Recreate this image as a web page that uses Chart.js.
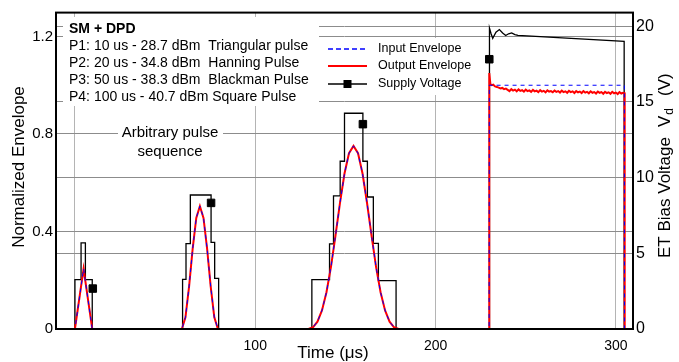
<!DOCTYPE html>
<html>
<head>
<meta charset="utf-8">
<script src="https://cdn.jsdelivr.net/npm/chart.js@4.4.1/dist/chart.umd.min.js"></script>
<style>
  html, body { margin: 0; padding: 0; background: #fff; }
  #wrap { width: 679px; height: 362px; }
</style>
</head>
<body>
<div id="wrap"><canvas id="pulseChart" width="679" height="362"></canvas></div>
<script>
// axis ticks
const xTicks = [0, 100, 200, 300];
const leftTicks = [0, 0.4, 0.8, 1.2];
const rightTicks = [0, 5, 10, 15, 20];

// input envelope (normalized) - triangle, hanning, blackman, square
const inputTime = [-10.5, 0, 4.8, 9.6,
  59.3, 61.3, 63.3, 65.3, 67.3, 69.3, 71.3, 73.3, 75.3, 77.3, 79.3,
  129.5, 132, 134.5, 137, 139.5, 142, 144.5, 147, 149.5, 152, 154.5, 157, 159.5, 162, 164.5, 167, 169.5, 172, 174.5, 177, 179.5,
  229.7, 229.8, 304.7, 304.8, 309.5];
const inputEnv = [0, 0, 0.247, 0,
  0, 0.048, 0.174, 0.330, 0.456, 0.504, 0.456, 0.330, 0.174, 0.048, 0,
  0, 0.007, 0.030, 0.076, 0.151, 0.255, 0.383, 0.517, 0.638, 0.721, 0.751, 0.721, 0.638, 0.517, 0.383, 0.255, 0.151, 0.076, 0.030, 0.007, 0,
  0, 1.0, 1.0, 0, 0];

// output envelope (normalized)
const outputTime = [-10.5, 0, 4.8, 9.6,
  59.3, 61.3, 63.3, 65.3, 67.3, 69.3, 71.3, 73.3, 75.3, 77.3, 79.3,
  129.5, 132, 134.5, 137, 139.5, 142, 144.5, 147, 149.5, 152, 154.5, 157, 159.5, 162, 164.5, 167, 169.5, 172, 174.5, 177, 179.5,
  229.7, 229.8, 230.4, 231.2, 232, 233, 234, 235, 236, 237, 238, 239,
  240, 241, 242, 243, 244, 245, 246, 247, 248, 249, 250, 251, 252, 253, 254, 255,
  256, 257, 258, 259, 260, 261, 262, 263, 264, 265, 266, 267, 268, 269, 270, 271,
  272, 273, 274, 275, 276, 277, 278, 279, 280, 281, 282, 283, 284, 285, 286, 287,
  288, 289, 290, 291, 292, 293, 294, 295, 296, 297, 298, 299, 300, 301, 302, 303, 304,
  304.8, 304.9, 309.5];
const outputEnv = [0, 0, 0.247, 0,
  0, 0.048, 0.174, 0.330, 0.456, 0.504, 0.456, 0.330, 0.174, 0.048, 0,
  0, 0.007, 0.030, 0.076, 0.151, 0.255, 0.383, 0.517, 0.638, 0.721, 0.751, 0.721, 0.638, 0.517, 0.383, 0.255, 0.151, 0.076, 0.030, 0.007, 0,
  0, 1.05, 1.005, 1.0, 1.002, 0.995, 0.993, 0.99, 0.987, 0.989, 0.984, 0.986,
  0.981, 0.976, 0.984, 0.978, 0.982, 0.975, 0.983, 0.977, 0.980, 0.974, 0.982, 0.976, 0.979, 0.973, 0.981, 0.975,
  0.978, 0.972, 0.980, 0.974, 0.977, 0.971, 0.979, 0.974, 0.976, 0.971, 0.978, 0.973, 0.976, 0.970, 0.978, 0.972,
  0.975, 0.969, 0.977, 0.972, 0.975, 0.968, 0.976, 0.971, 0.974, 0.968, 0.976, 0.970, 0.973, 0.967, 0.975, 0.969,
  0.972, 0.966, 0.974, 0.969, 0.972, 0.965, 0.973, 0.968, 0.971, 0.965, 0.973, 0.967, 0.970, 0.964, 0.972, 0.966, 0.969,
  0.968, 0, 0];

// ET supply voltage (V)
const supplyTime = [-10.5, 0, 0, 3.4, 3.4, 5.8, 5.8, 9.6, 9.6,
  59.7, 59.7, 61.6, 61.6, 64.0, 64.0, 75.5, 75.5, 77.5, 77.5, 79.7, 79.7,
  131.4, 131.4, 141.2, 141.2, 143.4, 143.4, 147.1, 147.1, 149.5, 149.5, 159.7, 159.7, 162.2, 162.2, 165.5, 165.5, 168.3, 168.3, 178.1, 178.1,
  229.8, 229.9, 230.8, 231.7, 233.5, 235.4, 237.2, 238.9, 240.5, 242.2, 244, 245.7, 304.6, 304.6, 309.5];
const supplyVolt = [0, 0, 3.26, 3.26, 5.69, 5.69, 3.26, 3.26, 0,
  0, 3.28, 3.28, 5.64, 5.64, 8.85, 8.85, 5.72, 5.72, 3.34, 3.34, 0,
  0, 3.26, 3.26, 5.62, 5.62, 8.79, 8.79, 11.08, 11.08, 14.25, 14.25, 11.08, 11.08, 8.72, 8.72, 5.66, 5.66, 3.2, 3.2, 0,
  0, 19.87, 19.5, 19.2, 19.6, 19.78, 19.55, 19.39, 19.5, 19.56, 19.45, 19.39, 19.0, 0, 0];

// square markers on the supply trace
const markerTime = [9.9, 75.5, 159.7, 229.8];
const markerVolt = [2.67, 8.33, 13.53, 17.82];

const FONT = '"Liberation Sans", Arial, sans-serif';

function toPoints(xs, ys) {
    return xs.map((x, i) => ({ x: x, y: ys[i] }));
}

// white boxes, legend, text block and axis titles
const annotations = {
    id: 'annotations',
    beforeDatasetsDraw(chart) {
        const ctx = chart.ctx;
        ctx.save();
        ctx.fillStyle = '#fff';
        ctx.fillRect(63, 17, 256, 89);
        ctx.fillRect(320, 38, 150, 57);
        ctx.fillRect(118, 124, 105, 37);
        ctx.restore();
    },
    afterDraw(chart) {
        const ctx = chart.ctx;
        const area = chart.chartArea;
        ctx.save();

        // frame
        ctx.strokeStyle = '#000';
        ctx.lineWidth = 2;
        ctx.strokeRect(area.left, area.top, area.right - area.left, area.bottom - area.top);

        ctx.fillStyle = '#000';
        ctx.textBaseline = 'middle';

        // text block
        ctx.textAlign = 'left';
        ctx.font = 'bold 14px ' + FONT;
        ctx.fillText('SM + DPD', 69, 29);
        ctx.font = '14px ' + FONT;
        ctx.fillText('P1: 10 us - 28.7 dBm  Triangular pulse', 69, 46);
        ctx.fillText('P2: 20 us - 34.8 dBm  Hanning Pulse', 69, 63);
        ctx.fillText('P3: 50 us - 38.3 dBm  Blackman Pulse', 69, 80);
        ctx.fillText('P4: 100 us - 40.7 dBm Square Pulse', 69, 97);

        // legend
        const legendRows = [
            { text: 'Input Envelope', color: '#0000ff', dash: [5, 3], width: 1.5, y: 49 },
            { text: 'Output Envelope', color: '#ff0000', dash: [], width: 2, y: 66 },
            { text: 'Supply Voltage', color: '#000', dash: [], width: 1.5, y: 84, marker: true }
        ];
        ctx.font = '12.5px ' + FONT;
        legendRows.forEach(row => {
            ctx.beginPath();
            ctx.setLineDash(row.dash);
            ctx.strokeStyle = row.color;
            ctx.lineWidth = row.width;
            ctx.moveTo(328, row.y);
            ctx.lineTo(367, row.y);
            ctx.stroke();
            ctx.setLineDash([]);
            if (row.marker) {
                ctx.fillStyle = '#000';
                ctx.fillRect(343.5, row.y - 4, 8, 8);
            }
            ctx.fillStyle = '#000';
            ctx.fillText(row.text, 378, row.y);
        });

        // inline note
        ctx.textAlign = 'center';
        ctx.font = '15px ' + FONT;
        ctx.fillText('Arbitrary pulse', 170, 133);
        ctx.fillText('sequence', 170, 152);

        // axis titles
        ctx.font = '17px ' + FONT;
        ctx.fillText('Time (\u03bcs)', 333, 353);

        ctx.save();
        ctx.translate(19, 167);
        ctx.rotate(-Math.PI / 2);
        ctx.fillText('Normalized Envelope', 0, 0);
        ctx.restore();

        // right title with subscript, spread like the original
        ctx.save();
        ctx.translate(665, 258);
        ctx.rotate(-Math.PI / 2);
        ctx.textAlign = 'left';
        ctx.font = '17px ' + FONT;
        const main = 'ET Bias Voltage';
        ctx.fillText(main, 0, 0);
        let w = ctx.measureText(main).width + 10;
        ctx.fillText('V', w, 0);
        w += ctx.measureText('V').width + 1;
        ctx.font = '12px ' + FONT;
        ctx.fillText('d', w, 5);
        w += ctx.measureText('d').width + 12;
        ctx.font = '17px ' + FONT;
        ctx.fillText('(V)', w, 0);
        ctx.restore();

        ctx.restore();
    }
};

const ctx = document.getElementById('pulseChart').getContext('2d');
const pulseChart = new Chart(ctx, {
    type: 'line',
    data: {
        datasets: [{
            label: 'Supply markers',
            data: toPoints(markerTime, markerVolt),
            yAxisID: 'y2',
            showLine: false,
            pointStyle: 'rect',
            pointRadius: 5.3,
            backgroundColor: '#000',
            borderColor: '#000',
            order: 0
        }, {
            label: 'Input Envelope',
            data: toPoints(inputTime, inputEnv),
            yAxisID: 'y',
            borderColor: '#0000ff',
            borderDash: [4, 4],
            borderWidth: 1,
            pointRadius: 0,
            order: 1
        }, {
            label: 'Output Envelope',
            data: toPoints(outputTime, outputEnv),
            yAxisID: 'y',
            borderColor: '#ff0000',
            borderWidth: 2,
            pointRadius: 0,
            order: 2
        }, {
            label: 'Supply Voltage',
            data: toPoints(supplyTime, supplyVolt),
            yAxisID: 'y2',
            borderColor: '#000',
            borderWidth: 1.3,
            pointRadius: 0,
            order: 3
        }]
    },
    options: {
        responsive: false,
        animation: false,
        devicePixelRatio: 1,
        layout: { padding: { top: 10, left: 0, right: 0, bottom: 0 } },
        plugins: {
            legend: { display: false },
            tooltip: { enabled: false }
        },
        scales: {
            x: {
                type: 'linear',
                min: -10.5,
                max: 309.5,
                afterBuildTicks: s => { s.ticks = xTicks.map(v => ({ value: v })); },
                afterFit: s => { s.height = 33; },
                ticks: {
                    callback: v => (v === 0 ? '' : v),
                    color: '#000',
                    font: { family: FONT, size: 14 },
                    padding: 9,
                    maxRotation: 0
                },
                grid: { color: '#b4b4b4', drawTicks: false },
                border: { display: false }
            },
            y: {
                position: 'left',
                min: 0,
                max: 1.298,
                afterBuildTicks: s => { s.ticks = leftTicks.map(v => ({ value: v })); },
                afterFit: s => { s.width = 56; },
                ticks: {
                    callback: v => v,
                    color: '#000',
                    font: { family: FONT, size: 15 },
                    padding: 3
                },
                grid: { color: '#8c8c8c', drawTicks: false },
                border: { display: false }
            },
            y2: {
                position: 'right',
                min: 0,
                max: 20.9,
                afterBuildTicks: s => { s.ticks = rightTicks.map(v => ({ value: v })); },
                afterFit: s => { s.width = 46; },
                ticks: {
                    callback: v => v,
                    color: '#000',
                    font: { family: FONT, size: 16 },
                    padding: 3
                },
                grid: { color: '#8c8c8c', drawTicks: false },
                border: { display: false }
            }
        }
    },
    plugins: [annotations]
});
</script>
</body>
</html>
